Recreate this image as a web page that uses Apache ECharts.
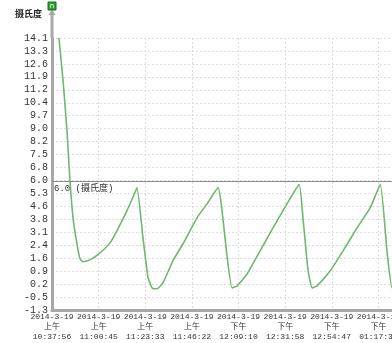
<!DOCTYPE html>
<html>
<head>
<meta charset="utf-8">
<script src="https://cdn.jsdelivr.net/npm/echarts@6/dist/echarts.min.js"></script>
<style>
html,body{margin:0;padding:0;background:#fff;}
#c{width:392px;height:343px;}
</style>
</head>
<body>
<div id="c"></div>
<script>
// ---- data ----
// minutes after 2014-3-19 10:37:56
var minutes = [3.4, 5.4, 7.3, 8.8, 10.3, 12.2, 13.7, 15.2, 18.6, 23.5, 28.4, 31.8, 36.7, 40.6, 41.6,
  44.5, 47.0, 49.0, 51.4, 54.3, 59.2, 64.1, 71.0, 75.9, 81.3,
  83.2, 85.7, 88.1, 90.6, 95.5, 101.8, 108.2, 115.0, 120.9,
  122.9, 125.3, 127.3, 129.7, 136.1, 142.4, 149.3, 155.7, 160.6,
  164.0, 166.4, 168.8, 171.5];
var temps = [14.1, 11.7, 8.9, 6.0, 3.9, 2.45, 1.6, 1.43, 1.54, 1.94, 2.5, 3.2, 4.33, 5.35, 5.63,
  2.8, 0.52, -0.05, -0.1, 0.24, 1.5, 2.45, 3.93, 4.72, 5.63,
  4.33, 1.66, -0.05, 0.07, 0.75, 2.05, 3.36, 4.72, 5.8,
  3.76, 0.92, -0.05, 0.07, 0.92, 2.05, 3.36, 4.5, 5.8,
  1.88, -0.05, 0.05, 0.4];
var yTickLabels = ['-1.3','-0.5','0.2','0.9','1.6','2.4','3.1','3.8','4.6','5.3','6.0','6.8','7.5','8.2','9.0','9.7','10.4','11.2','11.9','12.6','13.3','14.1'];
var xDates = ['2014-3-19','2014-3-19','2014-3-19','2014-3-19','2014-3-19','2014-3-19','2014-3-19','2014-3-19'];
var xPeriods = ['上午','上午','上午','上午','下午','下午','下午','下午'];
var xTimes = ['10:37:56','11:00:45','11:23:33','11:46:22','12:09:10','12:31:58','12:54:47','01:17:35'];
var thresholdValue = 6.0;
var thresholdLabel = '6.0 (摄氏度)';
var axisName = '摄氏度';

var yMin = -1.3, yMax = 14.1;
var yStep = (yMax - yMin) / (yTickLabels.length - 1);
var xStep = 22.81;

var seriesData = minutes.map(function (m, i) { return [m, temps[i]]; });

var chart = echarts.init(document.getElementById('c'), null, {renderer: 'canvas'});
chart.setOption({
  backgroundColor: '#ffffff',
  animation: false,
  grid: {left: 52, top: 38, width: 373, bottom: 33, outerBoundsMode: 'none', containLabel: false},
  xAxis: {
    type: 'value',
    min: 0,
    max: xStep * 8,
    interval: xStep,
    axisLine: {show: true, onZero: false, lineStyle: {color: '#a8a8a8', width: 3}},
    axisTick: {show: false},
    splitLine: {show: true, lineStyle: {color: '#dcdcdc', type: [2, 2], width: 1}},
    axisLabel: {
      margin: 2,
      color: '#333',
      fontFamily: 'Liberation Mono, Noto Sans CJK SC',
      fontSize: 8,
      lineHeight: 10,
      showMinLabel: true,
      showMaxLabel: false,
      hideOverlap: false,
      formatter: function (v) {
        var i = Math.round(v / xStep);
        if (i < 0 || i >= xTimes.length) return '';
        return xDates[i] + '\n' + xPeriods[i] + '\n' + xTimes[i];
      }
    }
  },
  yAxis: {
    type: 'value',
    min: yMin,
    max: yMax,
    interval: yStep,
    name: axisName,
    nameLocation: 'end',
    nameGap: 20,
    nameTextStyle: {align: 'right', color: '#222', fontWeight: 'bold', fontSize: 9,
      fontFamily: 'Noto Sans CJK SC', padding: [0, 10, 0, 0]},
    axisLine: {show: true, onZero: false, lineStyle: {color: '#a8a8a8', width: 3}},
    axisTick: {show: false},
    splitLine: {show: true, lineStyle: {color: '#dcdcdc', type: [2, 2], width: 1}},
    axisLabel: {
      margin: 4,
      color: '#333',
      fontFamily: 'Liberation Mono',
      fontSize: 10,
      formatter: function (v) {
        var i = Math.round((v - yMin) / yStep);
        return yTickLabels[i] !== undefined ? yTickLabels[i] : '';
      }
    }
  },
  graphic: [
    {type: 'line', shape: {x1: 52, y1: 12, x2: 52, y2: 38}, style: {stroke: '#a8a8a8', lineWidth: 3}, z: 10},
    {type: 'polygon', shape: {points: [[52, 9], [48.5, 15], [55.5, 15]]}, style: {fill: '#a8a8a8'}, z: 10},
    {type: 'rect', shape: {x: 48, y: 2, width: 8, height: 8}, style: {fill: '#2e9e2e', stroke: '#1b6e1b'}, z: 11},
    {type: 'text', style: {x: 52, y: 6, text: 'n', fill: '#fff', fontSize: 7, align: 'center', verticalAlign: 'middle', fontFamily: 'DejaVu Sans'}, z: 12}
  ],
  series: [{
    type: 'line',
    data: seriesData,
    smooth: 0.15,
    showSymbol: false,
    clip: true,
    lineStyle: {color: '#6fb86f', width: 1.6},
    markLine: {
      silent: true,
      symbol: ['none', 'none'],
      lineStyle: {color: '#8a8a8a', type: 'solid', width: 1},
      label: {
        position: 'insideStartBottom',
        formatter: thresholdLabel,
        color: '#333',
        fontSize: 9,
        fontFamily: 'Liberation Mono, Noto Sans CJK SC',
        distance: [2, 3]
      },
      data: [{yAxis: thresholdValue}]
    }
  }]
});
</script>
</body>
</html>
